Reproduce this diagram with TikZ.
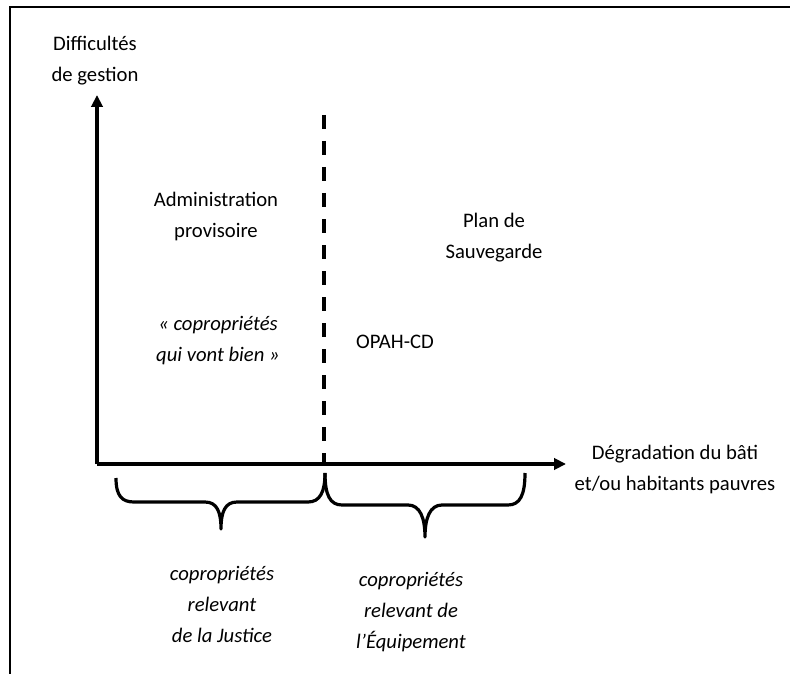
\documentclass[tikz,border=0pt]{standalone}
\usepackage{fontspec}
\setmainfont{Carlito}
\usetikzlibrary{positioning, arrows.meta}
\tikzset{
  txt/.style={
      font=\fontsize{15.5}{23.25}\selectfont,
      align=center,
      inner sep=0pt
    },
  itxt/.style={
      txt,
      font=\fontsize{15.5}{23.25}\selectfont\itshape
    },
  axis/.style={
      -{Triangle[length=9pt,width=8.5pt]},
      line width=2.4pt
    },
  sep/.style={
      line width=2.8pt,
      dash pattern=on 10.5pt off 9pt
    },
  brace/.style={
      line width=2.4pt,
      line join=round
    }
}

\begin{document}
\begin{tikzpicture}[x=0.75pt, y=-0.75pt]
  \useasboundingbox (0,0) rectangle (790,674);
  \draw[line width=1.6pt] (10,674) -- (10,7) -- (790,7);
  % axes
  \coordinate (orig) at (97,464);
  \coordinate (ytop) at (97,95);
  \coordinate (xend) at (566,464);
  \coordinate (dtop) at (324,115);
  \coordinate (dbot) at (324,464);
  \draw[axis] (orig) -- (ytop);
  \draw[axis] (orig) -- (xend);
  \draw[sep] (dtop) -- (dbot);
  \node[txt] (ylab) at (95,61) {Difficultés\\de gestion};
  \node[txt] (xlab) at (675,469) {Dégradation du bâti\\et/ou habitants pauvres};
  % zones
  \node[txt] (admin) at (216,216) {Administration\\provisoire};
  \node[txt] (plan) at (494,238) {Plan de\\Sauvegarde};
  \node[itxt] (bien) at (218,341) {«~copropriétés\\qui vont bien~»};
  \node[txt] (opah) at (395,342) {OPAH-CD};
  % braces
  \draw[brace] (116,478) .. controls (116,496) and (122,502) .. (134,502) -- (205,502)
    .. controls (217,502) and (221,512) .. (221,529)
    .. controls (221,512) and (225,502) .. (237,502) -- (308,502)
    .. controls (320,502) and (325,492) .. (325,473);
  \draw[brace] (325,473) .. controls (325,495) and (330,505) .. (342,505) -- (408,505)
    .. controls (420,505) and (425,518) .. (425,537)
    .. controls (425,518) and (430,505) .. (442,505) -- (508,505)
    .. controls (520,505) and (525,495) .. (525,473);
  \node[itxt] (justice) at (222,604) {copropriétés\\relevant\\de la Justice};
  \node[itxt] (equip) at (411,612) {copropriétés\\relevant de\\l’Équipement};
\end{tikzpicture}
\end{document}
